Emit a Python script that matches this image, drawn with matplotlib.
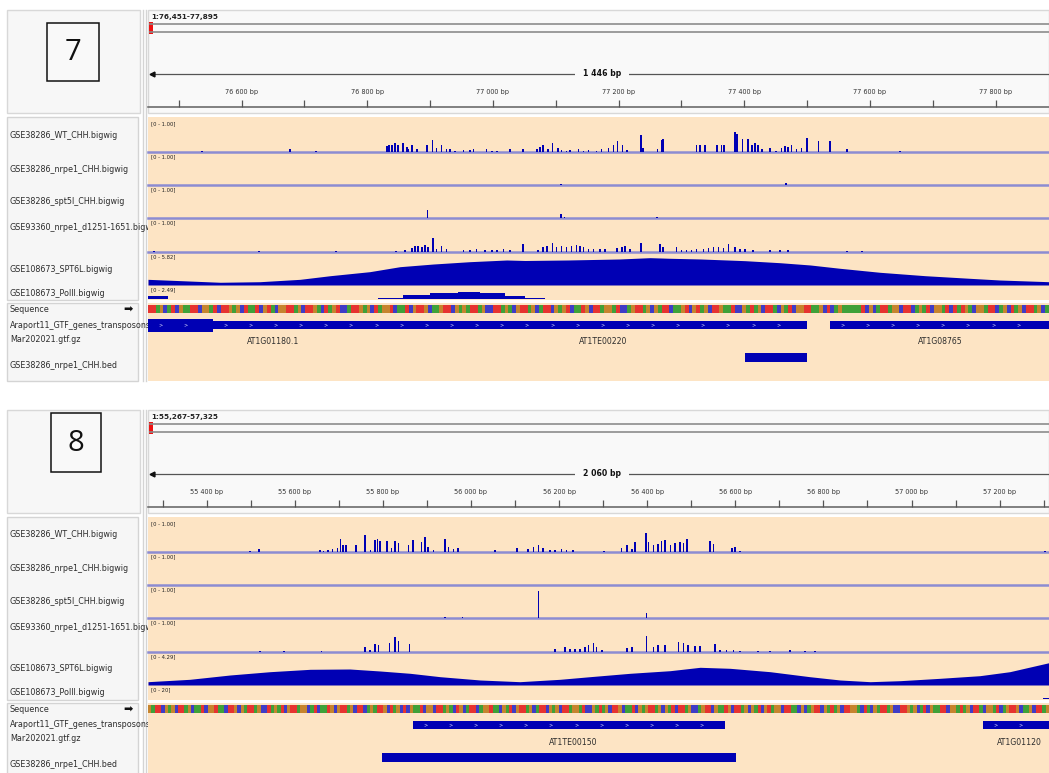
import numpy as np
import matplotlib
matplotlib.use("Agg")
import matplotlib.pyplot as plt
from matplotlib.patches import Rectangle

W, H = 1049, 773

# ---------------- panel 7 data ----------------
LOCUS_7 = "1:76,451-77,895"
SPAN_7 = "1 446 bp"
VIEW_7 = (76451, 77885)

WT_7_POS = [76537, 76677, 76718, 76831, 76835, 76839, 76844, 76849, 76857, 76863, 76865, 76871,
            76879, 76895, 76904, 76910, 76918, 76926, 76932, 76940, 76953, 76963, 76969, 76990,
            76998, 77006, 77027, 77048, 77070, 77075, 77080, 77088, 77095, 77104, 77109, 77117,
            77123, 77136, 77144, 77152, 77165, 77173, 77184, 77192, 77198, 77206, 77213, 77236,
            77239, 77262, 77269, 77271, 77324, 77330, 77337, 77357, 77364, 77368, 77385, 77388,
            77397, 77406, 77412, 77417, 77422, 77428, 77441, 77451, 77459, 77465, 77470, 77475,
            77483, 77491, 77500, 77518, 77536, 77563, 77648]
WT_7_VAL = [0.03, 0.10, 0.03, 0.19, 0.21, 0.23, 0.27, 0.21, 0.27, 0.16, 0.10, 0.23,
            0.10, 0.21, 0.39, 0.13, 0.21, 0.10, 0.08, 0.04, 0.06, 0.06, 0.08, 0.08,
            0.04, 0.04, 0.10, 0.08, 0.10, 0.16, 0.23, 0.10, 0.29, 0.13, 0.06, 0.04,
            0.06, 0.10, 0.04, 0.06, 0.04, 0.10, 0.13, 0.21, 0.33, 0.23, 0.06, 0.54,
            0.13, 0.10, 0.36, 0.40, 0.23, 0.23, 0.21, 0.21, 0.23, 0.23, 0.62, 0.57,
            0.42, 0.42, 0.21, 0.29, 0.21, 0.08, 0.13, 0.04, 0.13, 0.19, 0.16, 0.21,
            0.10, 0.13, 0.44, 0.33, 0.33, 0.08, 0.02]

NRPE1_7_POS = [77108, 77466]
NRPE1_7_VAL = [0.04, 0.06]

SPT5L_7_POS = [76896, 77108, 77114, 77261]
SPT5L_7_VAL = [0.24, 0.14, 0.04, 0.04]

D1251_7_POS = [76461, 76628, 76750, 76846, 76860, 76871, 76876, 76881, 76887, 76892, 76897,
               76905, 76910, 76918, 76926, 76953, 76963, 76974, 76987, 76998, 77006, 77017,
               77027, 77048, 77072, 77080, 77086, 77095, 77101, 77109, 77117, 77125, 77133,
               77139, 77144, 77152, 77160, 77170, 77178, 77197, 77205, 77210, 77218, 77236,
               77266, 77271, 77292, 77300, 77308, 77316, 77324, 77335, 77343, 77351, 77359,
               77367, 77375, 77385, 77393, 77401, 77414, 77441, 77457, 77470, 77563, 77587]
D1251_7_VAL = [0.03, 0.04, 0.03, 0.02, 0.05, 0.12, 0.18, 0.18, 0.16, 0.21, 0.16,
               0.42, 0.10, 0.18, 0.08, 0.07, 0.05, 0.08, 0.05, 0.05, 0.05, 0.08,
               0.05, 0.23, 0.05, 0.16, 0.19, 0.26, 0.16, 0.19, 0.16, 0.18, 0.21,
               0.19, 0.16, 0.10, 0.10, 0.08, 0.08, 0.13, 0.16, 0.19, 0.08, 0.26,
               0.23, 0.16, 0.16, 0.07, 0.05, 0.07, 0.08, 0.10, 0.13, 0.14, 0.14,
               0.13, 0.23, 0.16, 0.10, 0.08, 0.07, 0.07, 0.05, 0.05, 0.03, 0.03]

SPT6L_7_POS = [76451, 76566, 76629, 76693, 76741, 76804, 76852, 76905, 76963, 77022, 77051,
               77119, 77202, 77250, 77282, 77330, 77401, 77457, 77505, 77552, 77616, 77688,
               77759, 77807, 77885]
SPT6L_7_VAL = [1.00, 0.48, 0.58, 1.00, 1.64, 2.35, 3.23, 3.70, 4.11, 4.41, 4.32,
               4.41, 4.59, 4.82, 4.71, 4.59, 4.29, 3.93, 3.53, 2.95, 2.24, 1.64,
               1.18, 0.88, 0.58]

POLII_7_POS = [76451, 76483, 76817, 76857, 76900, 76944, 76979, 77019, 77051, 77083]
POLII_7_VAL = [0.45, 0.0, 0.18, 0.71, 1.12, 1.30, 1.01, 0.53, 0.18, 0.0]

SEQ_7 = ("TTAGCATCGAATTCGGATCTTGAGCTAATCGTACGGTTAGCTTGACTAGTCCATTGAGCTAGGTCAATCGTTGCAAGTTC"
         "GAGATTAGCCTTAGACGTTAGCATTCGAGTCAATGCTTAGGATCCAGTTAGCGATTCAAGTCGTAGCTTGAATCCGATAG"
         "CTTACGATCGGTTAAGCTCAGAAAAATCGCATTAGGCTTCAGATCGGATCTATGACGGATTCAGCTAGCTTAGCA")

GENES_7 = [(76451, 76554, 13), (76554, 77500, 8), (77536, 77885, 8)]
GENE_LABELS_7 = [(76650, "AT1G01180.1"), (77176, "AT1TE00220"), (77712, "AT1G08765")]
BED_7 = [(77401, 77500)]

# ---------------- panel 8 data ----------------
LOCUS_8 = "1:55,267-57,325"
SPAN_8 = "2 060 bp"
VIEW_8 = (55267, 57312)

WT_8_POS = [55499, 55519, 55657, 55665, 55676, 55686, 55697, 55704, 55710, 55716, 55739, 55760,
            55772, 55782, 55788, 55794, 55809, 55820, 55828, 55835, 55858, 55869, 55888, 55896,
            55903, 55915, 55941, 55949, 55960, 55971, 56055, 56105, 56130, 56142, 56153, 56164,
            56179, 56191, 56206, 56217, 56232, 56302, 56342, 56354, 56365, 56372, 56397, 56403,
            56414, 56425, 56433, 56441, 56453, 56463, 56475, 56482, 56490, 56543, 56550, 56592,
            56599, 56611, 57303]
WT_8_VAL = [0.03, 0.08, 0.05, 0.04, 0.05, 0.10, 0.13, 0.42, 0.23, 0.21, 0.23, 0.52,
            0.05, 0.36, 0.40, 0.33, 0.33, 0.13, 0.33, 0.29, 0.23, 0.36, 0.31, 0.47,
            0.16, 0.05, 0.40, 0.16, 0.10, 0.13, 0.05, 0.13, 0.08, 0.16, 0.23, 0.13,
            0.05, 0.05, 0.08, 0.05, 0.05, 0.03, 0.13, 0.23, 0.08, 0.31, 0.60, 0.31,
            0.21, 0.26, 0.33, 0.36, 0.23, 0.29, 0.31, 0.29, 0.40, 0.33, 0.26, 0.13,
            0.16, 0.03, 0.03]

NRPE1_8_POS = []
NRPE1_8_VAL = []

SPT5L_8_POS = [55941, 55981, 56153, 56399]
SPT5L_8_VAL = [0.03, 0.03, 0.83, 0.17]

D1251_8_POS = [55521, 55576, 55661, 55760, 55771, 55782, 55790, 55815, 55828, 55835, 55860,
               56191, 56214, 56225, 56236, 56248, 56259, 56267, 56278, 56285, 56297, 56354,
               56365, 56399, 56414, 56425, 56441, 56471, 56482, 56493, 56509, 56520, 56554,
               56565, 56580, 56596, 56611, 56651, 56679, 56724, 56758, 56781]
D1251_8_VAL = [0.03, 0.04, 0.03, 0.16, 0.05, 0.23, 0.21, 0.26, 0.44, 0.33, 0.23,
               0.08, 0.16, 0.10, 0.08, 0.10, 0.16, 0.21, 0.26, 0.16, 0.05, 0.13,
               0.16, 0.47, 0.16, 0.21, 0.21, 0.31, 0.26, 0.21, 0.18, 0.18, 0.23,
               0.07, 0.07, 0.05, 0.03, 0.04, 0.04, 0.05, 0.04, 0.03]

SPT6L_8_POS = [55267, 55362, 55453, 55544, 55635, 55725, 55794, 55862, 55930, 56021, 56111,
               56202, 56270, 56361, 56452, 56520, 56588, 56679, 56769, 56838, 56906, 56974,
               57065, 57155, 57223, 57312]
SPT6L_8_VAL = [0.43, 0.74, 1.30, 1.73, 2.04, 2.08, 1.82, 1.52, 1.08, 0.65, 0.43,
               0.74, 1.08, 1.52, 1.86, 2.30, 2.17, 1.73, 1.08, 0.65, 0.43, 0.56,
               0.87, 1.21, 1.73, 2.90]

POLII_8_POS = [57298, 57312]
POLII_8_VAL = [1.5, 0.0]

SEQ_8 = ("GATTCGAGCTTAGCAATCGGTAACTTGCGATTAGCCTAGATCGTTAGGCATCAATGCGTTAGCTTCAGATTGCTAGCTCGA"
         "ATCGGCTTAGACTGCATTCAGGTAACGATCGTTAGCATTCGAGCTTAGGATCCGATAGCTTGCAATCGAGTTAGCGATCT"
         "TAGCCAGTTCGAATGCTTAGCGATCGTAGGCTTAACGCAGTTCGATAGCTTGGACTACGATTAGCCTTGAGCATCGAATT"
         "CGGATAGCTTACGGATCAGTTGCAAGCTTAG")

GENES_8 = [(55868, 56577, 8), (57162, 57312, 8)]
GENE_LABELS_8 = [(56233, "AT1TE00150"), (57244, "AT1G01120")]
BED_8 = [(55798, 56602)]

# ---------------- shared labels ----------------
TRACK_NAMES = ["GSE38286_WT_CHH.bigwig", "GSE38286_nrpe1_CHH.bigwig", "GSE38286_spt5l_CHH.bigwig",
               "GSE93360_nrpe1_d1251-1651.bigwig", "GSE108673_SPT6L.bigwig", "GSE108673_PolII.bigwig"]
RANGES_7 = ["[0 - 1.00]", "[0 - 1.00]", "[0 - 1.00]", "[0 - 1.00]", "[0 - 5.82]", "[0 - 2.49]"]
RANGES_8 = ["[0 - 1.00]", "[0 - 1.00]", "[0 - 1.00]", "[0 - 1.00]", "[0 - 4.29]", "[0 - 20]"]
YMAX_7 = [1.03, 1.03, 1.03, 1.03, 5.82, 2.49]
YMAX_8 = [1.03, 1.03, 1.03, 1.03, 4.29, 20]

TRACK_Y = [(119, 152), (152, 185), (185, 218), (218, 252), (252, 285), (285, 299)]
LABEL_Y = [135, 169, 202, 228, 269, 293]

PEACH = "#fde4c4"
BLUE = "#0000b4"
BASE = "#8c8cd2"
TXT = "#2c2c2c"
BASE_COL = {"A": "#2a9a2a", "C": "#2a2ac8", "G": "#c07a1e", "T": "#e42020"}

fig = plt.figure(figsize=(W / 100, H / 100), dpi=100)
canvas = fig.add_axes([0, 0, 1, 1])
canvas.set_xlim(0, W)
canvas.set_ylim(H, 0)
canvas.axis("off")


def px_axes(x0, y0, x1, y1):
    ax = fig.add_axes([x0 / W, 1 - y1 / H, (x1 - x0) / W, (y1 - y0) / H])
    ax.axis("off")
    return ax


def rect(x0, y0, x1, y1, fc, ec="none", lw=1.0):
    canvas.add_patch(Rectangle((x0, y0), x1 - x0, y1 - y0, facecolor=fc, edgecolor=ec, lw=lw))


def draw_panel(o, num, numbox, locus, span, view, tracks, ranges, ymax, seq, genes, glabels, bed, bar_w, chev):
    # header
    rect(7, 10 + o, 140, 113 + o, "#f7f7f7", "#d8d8d8")
    bx0, by0, bx1, by1 = numbox
    rect(bx0, by0 + o, bx1, by1 + o, "#f9f9f9", "#111111", 1.1)
    canvas.text((bx0 + bx1) / 2, (by0 + by1) / 2 + o + 1, num, fontsize=21, ha="center", va="center",
                family="Open Sans", color="#111111")
    rect(148, 10 + o, 1049, 113 + o, "#f9f9f9", "#d8d8d8")
    canvas.text(151, 17 + o, locus, fontsize=5.2, fontweight="bold", va="center", color="#222222")
    canvas.plot([150, 1049], [24 + o, 24 + o], color="#8c8c8c", lw=1.2)
    canvas.plot([150, 1049], [32 + o, 32 + o], color="#8c8c8c", lw=1.2)
    rect(149, 22 + o, 153, 34 + o, "#ee1111")
    canvas.plot([151, 1049], [74 + o, 74 + o], color="#555555", lw=0.9)
    canvas.plot(152, 74 + o, marker="<", ms=3.5, color="#111111")
    canvas.text(602, 74 + o, span, fontsize=5.6, fontweight="bold", ha="center", va="center",
                color="#111111", bbox=dict(facecolor="#f9f9f9", edgecolor="none", pad=6))
    canvas.plot([148, 1049], [107 + o, 107 + o], color="#777777", lw=1.3)

    rax = px_axes(148, 60 + o, 1049, 113 + o)
    rax.set_xlim(view)
    rax.set_ylim(113 + o, 60 + o)
    ticks = np.arange(int(np.ceil(view[0] / 100.0)) * 100, view[1] + 1, 100)
    rax.vlines(ticks, 100 + o, 107 + o, color="#555555", lw=0.9)
    for t in ticks:
        if t % 200 == 0:
            rax.text(t, 92 + o, "%d %03d bp" % (t // 1000, t % 1000), fontsize=4.7, ha="center",
                     va="center", color="#333333")

    # label column + data area
    rect(7, 117 + o, 138, 300 + o, "#f6f6f6", "#d4d4d4")
    rect(7, 303 + o, 138, 381 + o, "#f6f6f6", "#d4d4d4")
    canvas.plot([143, 143], [10 + o, 381 + o], color="#d4d4d4", lw=1)
    canvas.plot([146, 146], [10 + o, 381 + o], color="#d4d4d4", lw=1)
    rect(148, 117 + o, 1049, 300 + o, PEACH)
    rect(148, 303 + o, 1049, 381 + o, PEACH)

    lab = px_axes(7, 117 + o, 147.5, 381 + o)
    lab.set_xlim(7, 147.5)
    lab.set_ylim(381 + o, 117 + o)
    for name, ly in zip(TRACK_NAMES, LABEL_Y):
        lab.text(10, ly + o, name, fontsize=5.8, va="center", color=TXT, clip_on=True)
    lab.text(10, 310 + o, "Sequence", fontsize=5.8, va="center", color=TXT)
    lab.text(128, 310 + o, "\u27a1", fontsize=8, ha="center", va="center", color="#111111")
    lab.text(10, 325 + o, "Araport11_GTF_genes_transposons_", fontsize=5.8, va="center",
             color=TXT, clip_on=True)
    lab.text(10, 339 + o, "Mar202021.gtf.gz", fontsize=5.8, va="center", color=TXT)
    lab.text(10, 365 + o, "GSE38286_nrpe1_CHH.bed", fontsize=5.8, va="center", color=TXT)

    for i, ((pos, val, kind), (ty0, ty1)) in enumerate(zip(tracks, TRACK_Y)):
        ax = px_axes(148, ty0 + o, 1049, ty1 + o)
        ax.set_xlim(view)
        ax.set_ylim(0, ymax[i])
        if kind == "bar":
            ax.bar(pos, val, width=bar_w, color=BLUE, linewidth=0)
        elif kind == "area":
            ax.fill_between(pos, val, 0, color=BLUE, linewidth=0)
        else:
            ax.fill_between(pos, val, 0, step="post", color=BLUE, linewidth=0)
        if i < 4:
            ax.axhline(0, color=BASE, lw=1.8, clip_on=False, zorder=0)
        canvas.text(151, ty0 + o + 5, ranges[i], fontsize=3.8, va="center", color="#222222")

    # sequence stripes
    sax = px_axes(148, 305 + o, 1049, 313 + o)
    sax.set_xlim(0, len(seq))
    sax.set_ylim(0, 1)
    sax.bar(np.arange(len(seq)), 1, width=1, align="edge",
            color=[BASE_COL[b] for b in seq], linewidth=0, alpha=0.9)

    # genes
    gax = px_axes(148, 313 + o, 1049, 370 + o)
    gax.set_xlim(view)
    gax.set_ylim(370 + o, 313 + o)
    for s, e, h in genes:
        gax.broken_barh([(s, e - s)], (325 + o - h / 2.0, h), facecolors=BLUE)
        for c in np.arange(s + chev / 2.0, e - chev / 3.0, chev):
            gax.text(c, 325 + o, ">", fontsize=3.5, color="#dfe0ff", ha="center", va="center")
    for gx, gl in glabels:
        gax.text(gx, 342 + o, gl, fontsize=5.6, ha="center", va="center", color=TXT)
    for s, e in bed:
        gax.broken_barh([(s, e - s)], (353 + o, 9), facecolors=BLUE)


tracks_7 = [(WT_7_POS, WT_7_VAL, "bar"), (NRPE1_7_POS, NRPE1_7_VAL, "bar"),
            (SPT5L_7_POS, SPT5L_7_VAL, "bar"), (D1251_7_POS, D1251_7_VAL, "bar"),
            (SPT6L_7_POS, SPT6L_7_VAL, "area"), (POLII_7_POS, POLII_7_VAL, "step")]
tracks_8 = [(WT_8_POS, WT_8_VAL, "bar"), (NRPE1_8_POS, NRPE1_8_VAL, "bar"),
            (SPT5L_8_POS, SPT5L_8_VAL, "bar"), (D1251_8_POS, D1251_8_VAL, "bar"),
            (SPT6L_8_POS, SPT6L_8_VAL, "area"), (POLII_8_POS, POLII_8_VAL, "step")]

draw_panel(0, "7", (47, 23, 99, 81), LOCUS_7, SPAN_7, VIEW_7, tracks_7, RANGES_7, YMAX_7,
           SEQ_7, GENES_7, GENE_LABELS_7, BED_7, 2.6, 40)
draw_panel(400, "8", (51, 13, 101, 72), LOCUS_8, SPAN_8, VIEW_8, tracks_8, RANGES_8, YMAX_8,
           SEQ_8, GENES_8, GENE_LABELS_8, BED_8, 3.4, 57)

fig.savefig("out.png", dpi=100, facecolor="white")
